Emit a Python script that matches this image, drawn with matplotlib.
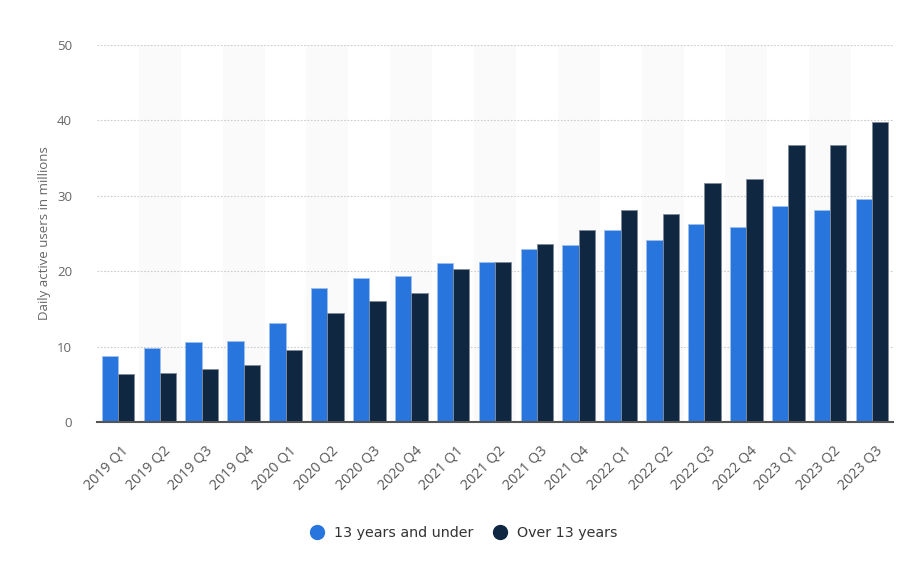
import matplotlib
matplotlib.use("Agg")
import matplotlib.pyplot as plt
from matplotlib.lines import Line2D
from matplotlib.transforms import ScaledTranslation
import numpy as np

categories = ["2019 Q1", "2019 Q2", "2019 Q3", "2019 Q4",
              "2020 Q1", "2020 Q2", "2020 Q3", "2020 Q4",
              "2021 Q1", "2021 Q2", "2021 Q3", "2021 Q4",
              "2022 Q1", "2022 Q2", "2022 Q3", "2022 Q4",
              "2023 Q1", "2023 Q2", "2023 Q3"]
under13 = [8.8, 9.8, 10.6, 10.8, 13.1, 17.8, 19.1, 19.3, 21.1, 21.2,
           23.0, 23.5, 25.4, 24.1, 26.2, 25.9, 28.6, 28.1, 29.6]
over13 = [6.3, 6.5, 7.0, 7.5, 9.5, 14.5, 16.0, 17.1, 20.3, 21.2,
          23.6, 25.4, 28.1, 27.6, 31.7, 32.2, 36.7, 36.7, 39.8]
series_names = ["13 years and under", "Over 13 years"]
colors = ["#2876dd", "#0f2740"]
yticks = [0, 10, 20, 30, 40, 50]
ylabel = "Daily active users in millions"

fig = plt.figure(figsize=(9.01, 5.74), dpi=100)
ax = fig.add_axes([97/901, 1-422/574, (893-97)/901, (422-45)/574])

x = np.arange(len(categories))
w = 0.39
for i in range(len(categories)):
    if i % 2 == 1:
        ax.axvspan(i-0.5, i+0.5, color="#fafafa", zorder=0, lw=0)

ax.bar(x - w/2, under13, width=w, color=colors[0], edgecolor="#9dbfea", linewidth=0.6, zorder=3)
ax.bar(x + w/2, over13, width=w, color=colors[1], edgecolor="#7f8b99", linewidth=0.6, zorder=3)

ax.set_xlim(-0.5, len(categories)-0.5)
ax.set_ylim(0, 50)
ax.set_yticks(yticks)
ax.set_yticklabels([str(v) for v in yticks], fontsize=9.5, color="#666666", family="Open Sans")
ax.yaxis.grid(True, linestyle=(0, (1.5, 1.5)), color="#cccccc", linewidth=0.8, zorder=1)
ax.tick_params(axis="y", length=0, pad=18)
ax.tick_params(axis="x", length=0, pad=15)
ax.set_xticks(x)
ax.set_xticklabels(categories, rotation=45, ha="right", rotation_mode="anchor",
                   fontsize=10.3, color="#555555", family="Open Sans")
offset = ScaledTranslation(3/100, 0, fig.dpi_scale_trans)
for lbl in ax.get_xticklabels():
    lbl.set_transform(lbl.get_transform() + offset)
for s in ["top", "right", "left"]:
    ax.spines[s].set_visible(False)
ax.spines["bottom"].set_color("#555555")
ax.spines["bottom"].set_linewidth(1.5)
ax.spines["bottom"].set_zorder(4)
ax.set_ylabel(ylabel, fontsize=9.5, color="#666666", family="Open Sans")
ax.yaxis.set_label_coords(-46/796, 0.5)

handles = [Line2D([], [], marker="o", linestyle="", markersize=10, color=c) for c in colors]
fig.legend(handles, series_names, loc="center", bbox_to_anchor=(460/901, 1-533/574), ncol=2,
           frameon=False, prop={"family": "DejaVu Sans", "size": 10.3}, labelcolor="#333333",
           handletextpad=0.15, columnspacing=0.9)

fig.savefig("out.png", dpi=100)
